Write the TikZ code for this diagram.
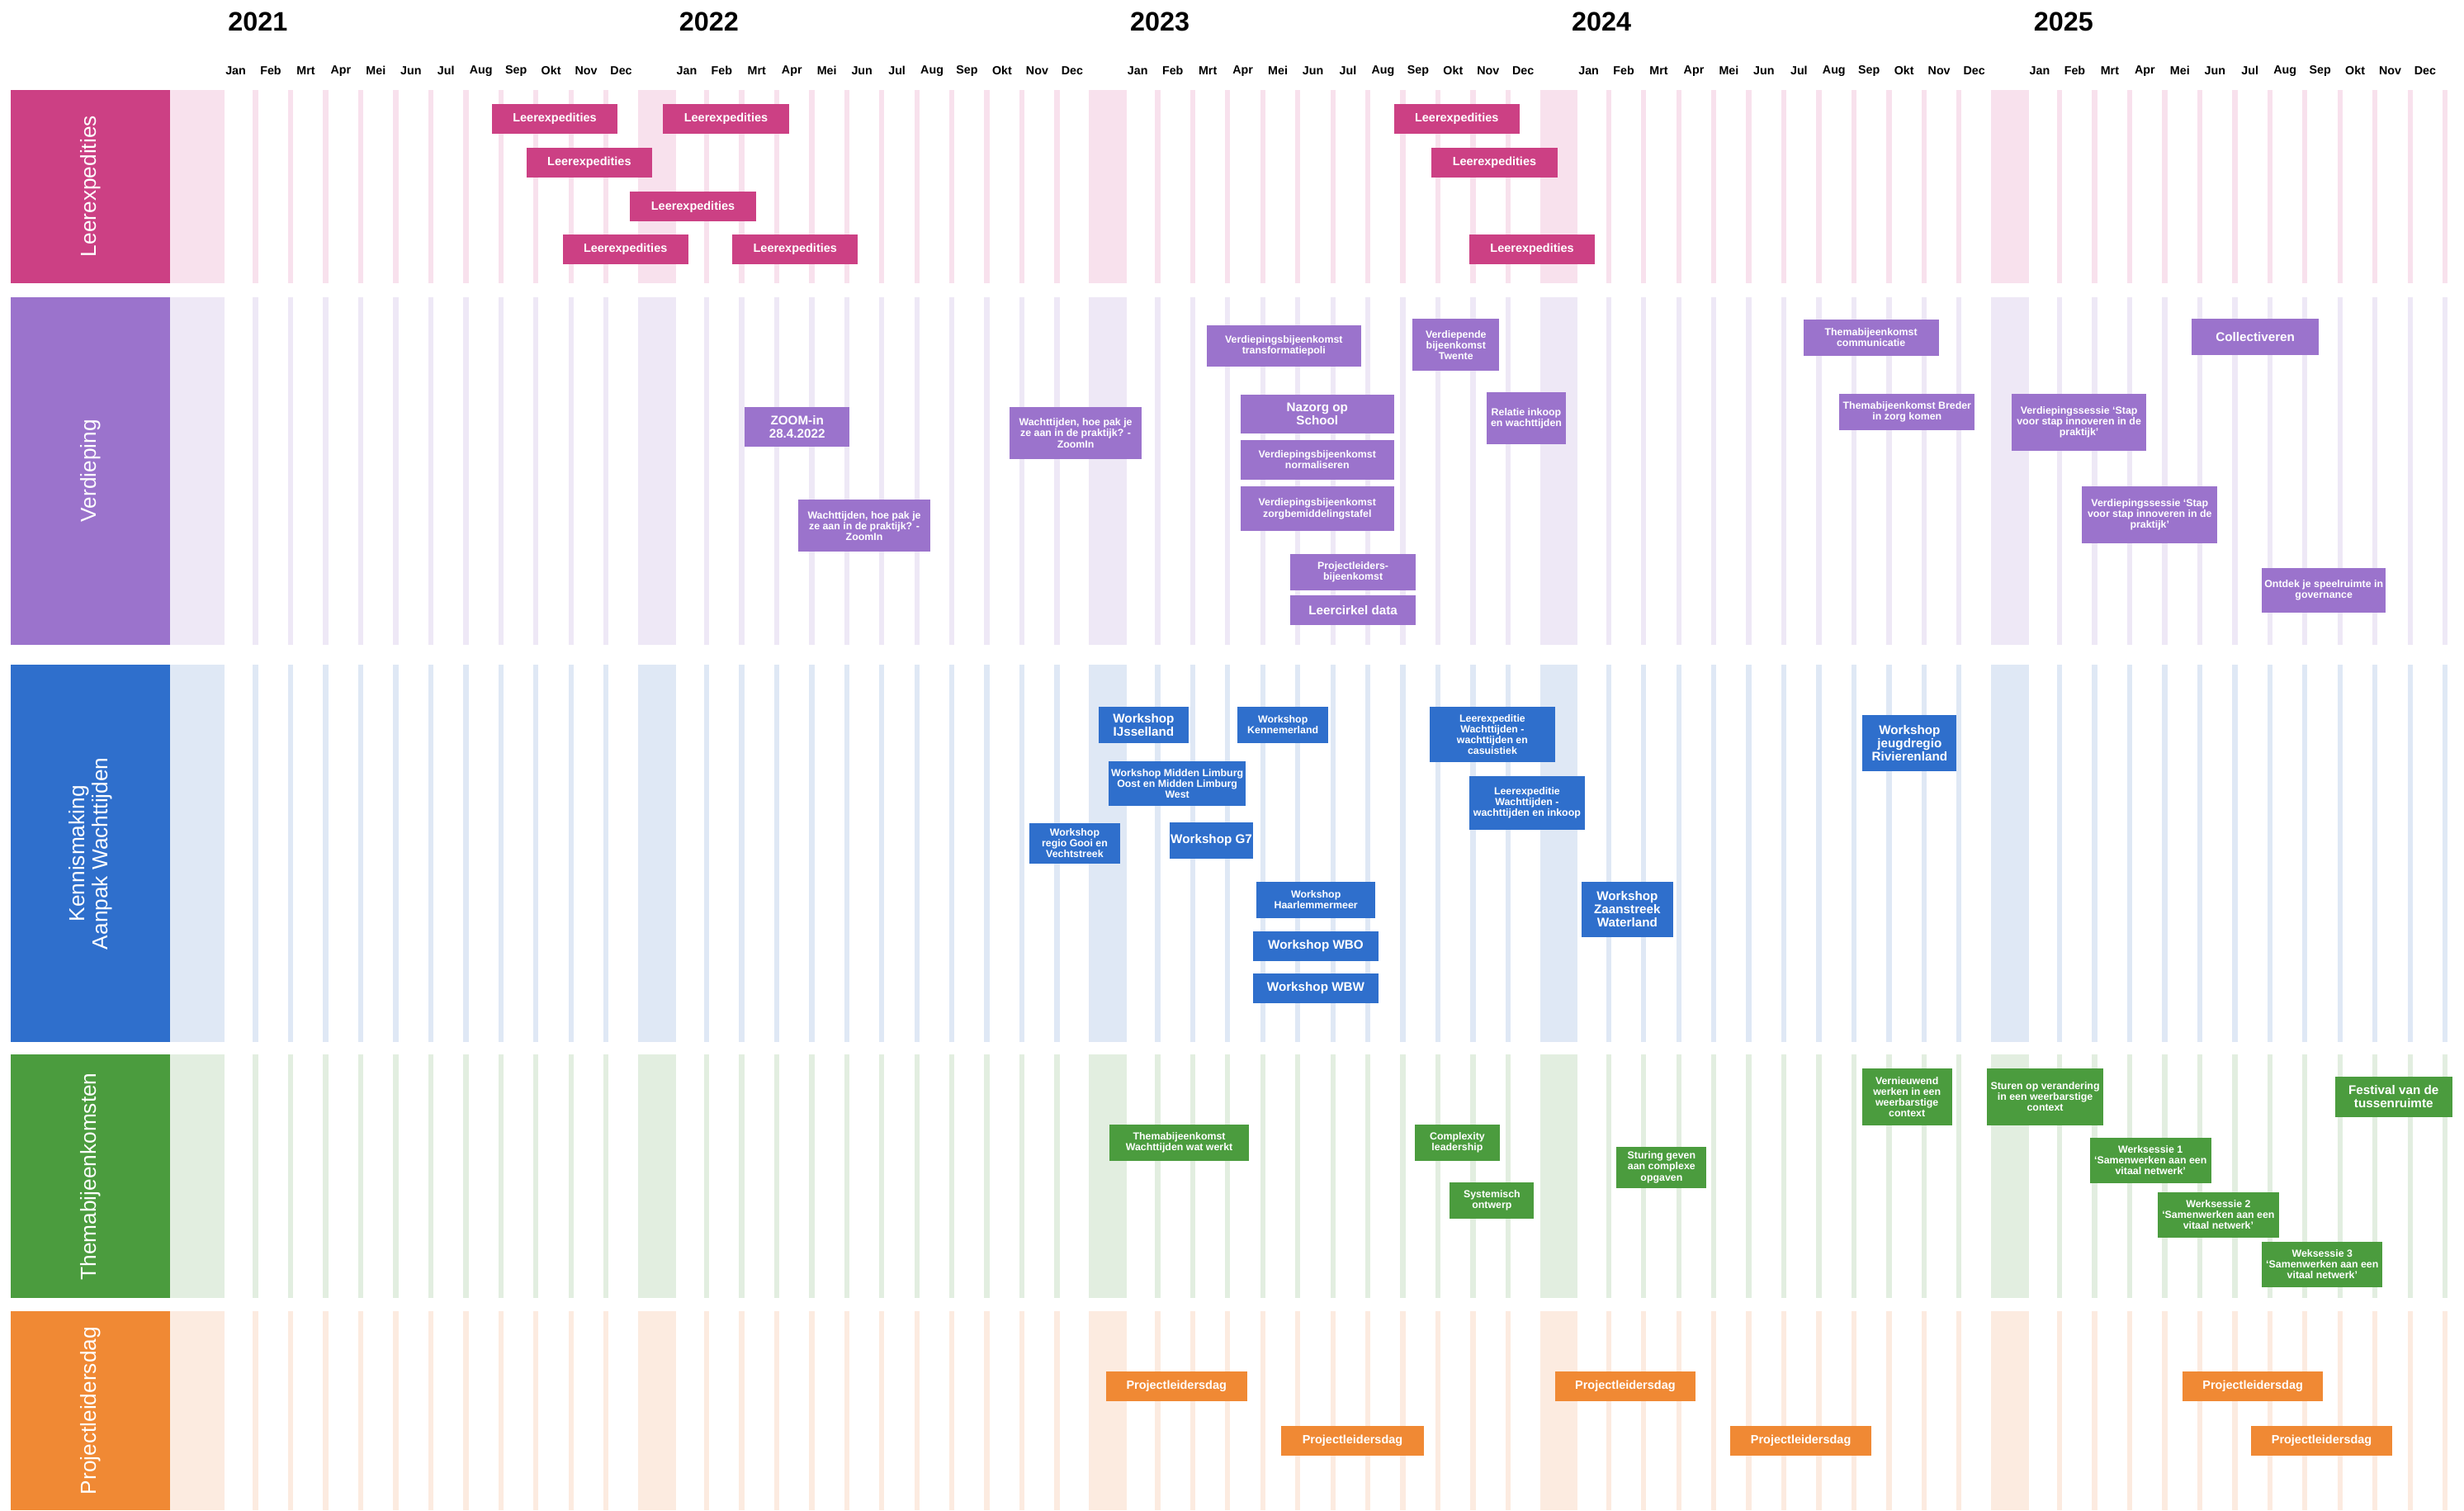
\documentclass[tikz,border=0pt]{standalone}
\usepackage{fontspec}
\setmainfont{Liberation Sans}
\definecolor{lxc}{RGB}{204,64,132}
\definecolor{lxp}{RGB}{248,225,237}
\definecolor{vdc}{RGB}{155,115,204}
\definecolor{vdp}{RGB}{238,232,246}
\definecolor{kmc}{RGB}{47,111,204}
\definecolor{kmp}{RGB}{223,232,245}
\definecolor{tbc}{RGB}{75,156,62}
\definecolor{tbp}{RGB}{226,238,224}
\definecolor{pdc}{RGB}{240,137,52}
\definecolor{pdp}{RGB}{252,235,224}
\tikzset{
  evt/.style={inner sep=0pt, outer sep=0pt, text=white, align=center, font=\bfseries\fontsize{6.5}{6.9}\selectfont},
  big/.style={font=\bfseries\fontsize{8}{8.4}\selectfont},
  mid/.style={font=\bfseries\fontsize{7.6}{8}\selectfont},
  lx/.style={evt, fill=lxc, mid},
  vd/.style={evt, fill=vdc},
  km/.style={evt, fill=kmc},
  tb/.style={evt, fill=tbc},
  pd/.style={evt, fill=pdc, mid},
  rowblk/.style={inner sep=0pt, outer sep=0pt},
  rowlab/.style={text=white, rotate=90, align=center, font=\fontsize{13.8}{14.5}\selectfont},
  month/.style={font=\bfseries\fontsize{7.5}{8}\selectfont},
  yr/.style={anchor=west, inner sep=0pt, font=\bfseries\fontsize{17}{18}\selectfont}
}
% style, x1, y1, x2, y2, name, text
\newcommand\evbox[7]{\node[#1, minimum width={(#4)-(#2)}, minimum height={(#5)-(#3)}] (#6) at ({((#2)+(#4))/2},{((#3)+(#5))/2}) {#7};}

\begin{document}
\begin{tikzpicture}[x=1pt, y=-1pt]
\useasboundingbox (0,0) rectangle (1568,961);
\fill[white] (0,0) rectangle (1568,961);

% month stripes
\foreach \ya/\yb/\pc in {57/180/lxp,189/410/vdp,423/663/kmp,671/826/tbp,834/961/pdp}{
  \fill[\pc] (108,\ya) rectangle (143,\yb);
  \foreach \y in {0,...,4}{
    \pgfmathsetmacro\xo{150+287*\y}
    \ifnum\y>0 \fill[\pc] (\xo-31,\ya) rectangle (\xo-7,\yb); \fi
    \foreach \k in {1,...,12}
      \fill[\pc] (\xo+22.3*\k-11.3,\ya) rectangle (\xo+22.3*\k-8,\yb);
  }
}

% years and months
\foreach \y/\yr/\yx in {0/2021/145,1/2022/432,2/2023/719,3/2024/1000,4/2025/1294}{
  \node[yr] (y\yr) at (\yx,14) {\yr};
  \foreach \m [count=\i from 0] in {Jan,Feb,Mrt,Apr,Mei,Jun,Jul,Aug,Sep,Okt,Nov,Dec}
    \node[month] (m\yr-\i) at ({150+287*\y+22.3*\i},45) {\m};
}

% rows
\evbox{rowblk,fill=lxc}{7}{57}{108}{180}{rLx}{}
\evbox{rowblk,fill=vdc}{7}{189}{108}{410}{rVd}{}
\evbox{rowblk,fill=kmc}{7}{423}{108}{663}{rKm}{}
\evbox{rowblk,fill=tbc}{7}{671}{108}{826}{rTb}{}
\evbox{rowblk,fill=pdc}{7}{834}{108}{961}{rPd}{}
\node[rowlab] (tLx) at (rLx) {Leerexpedities};
\node[rowlab] (tVd) at (rVd) {Verdieping};
\node[rowlab] (tKm) at (rKm) {Kennismaking\\Aanpak Wachttijden};
\node[rowlab] (tTb) at (rTb) {Themabijeenkomsten};
\node[rowlab] (tPd) at (rPd) {Projectleidersdag};

% Leerexpedities
\evbox{lx}{313}{66}{393}{85}{le1}{Leerexpedities}
\evbox{lx}{422}{66}{502}{85}{le2}{Leerexpedities}
\evbox{lx}{335}{94}{415}{113}{le3}{Leerexpedities}
\evbox{lx}{401}{122}{481}{141}{le4}{Leerexpedities}
\evbox{lx}{358}{149}{438}{168}{le5}{Leerexpedities}
\evbox{lx}{466}{149}{546}{168}{le6}{Leerexpedities}
\evbox{lx}{887}{66}{967}{85}{le7}{Leerexpedities}
\evbox{lx}{911}{94}{991}{113}{le8}{Leerexpedities}
\evbox{lx}{935}{149}{1015}{168}{le9}{Leerexpedities}

% Verdieping
\evbox{vd,big}{474}{259}{540.5}{284}{vd1}{ZOOM-in\\28.4.2022}
\evbox{vd}{508}{318}{592}{351}{vd2}{Wachttijden, hoe pak je\\ze aan in de praktijk? -\\ZoomIn}
\evbox{vd}{642.5}{259}{726.5}{292}{vd3}{Wachttijden, hoe pak je\\ze aan in de praktijk? -\\ZoomIn}
\evbox{vd}{768}{207}{866}{233}{vd4}{Verdiepingsbijeenkomst\\transformatiepoli}
\evbox{vd}{899}{203}{954}{236}{vd5}{Verdiepende\\bijeenkomst\\Twente}
\evbox{vd,big}{789.5}{251}{887}{276}{vd6}{Nazorg op\\School}
\evbox{vd}{789.5}{280}{887}{305}{vd7}{Verdiepingsbijeenkomst\\normaliseren}
\evbox{vd}{789.5}{309.5}{887}{338}{vd8}{Verdiepingsbijeenkomst\\zorgbemiddelingstafel}
\evbox{vd}{946}{249.5}{996.5}{282.5}{vd9}{Relatie inkoop\\en wachttijden}
\evbox{vd}{821}{352.5}{901}{375.5}{vd10}{Projectleiders-\\bijeenkomst}
\evbox{vd,big}{821}{378.7}{901}{397.5}{vd11}{Leercirkel data}
\evbox{vd}{1147.6}{203.3}{1233.7}{226.2}{vd12}{Themabijeenkomst\\communicatie}
\evbox{vd}{1170.5}{250.6}{1256.7}{273.5}{vd13}{Themabijeenkomst Breder\\in zorg komen}
\evbox{vd}{1280}{250.6}{1366}{286.6}{vd14}{Verdiepingssessie ‘Stap\\voor stap innoveren in de\\praktijk’}
\evbox{vd}{1325}{309.4}{1411}{345.5}{vd15}{Verdiepingssessie ‘Stap\\voor stap innoveren in de\\praktijk’}
\evbox{vd,big}{1394.6}{203}{1475.7}{226}{vd16}{Collectiveren}
\evbox{vd}{1439.4}{361.4}{1518.2}{390}{vd17}{Ontdek je speelruimte in\\governance}

% Kennismaking Aanpak Wachttijden
\evbox{km,big}{699}{449.7}{756.5}{472.6}{km1}{Workshop\\IJsselland}
\evbox{km}{787.6}{449.7}{845.2}{472.6}{km2}{Workshop\\Kennemerland}
\evbox{km}{705.6}{484.3}{792.7}{512.9}{km3}{Workshop Midden Limburg\\Oost en Midden Limburg\\West}
\evbox{km}{655}{523.7}{712.8}{549.3}{km4}{Workshop\\regio Gooi en\\Vechtstreek}
\evbox{km,big}{744.2}{523.2}{797.6}{546.2}{km5}{Workshop G7}
\evbox{km}{799.6}{561}{875.2}{584}{km6}{Workshop\\Haarlemmermeer}
\evbox{km,big}{797.6}{592.5}{877}{611.3}{km7}{Workshop WBO}
\evbox{km,big}{797.6}{619.3}{877}{638}{km8}{Workshop WBW}
\evbox{km}{910}{449.7}{989.4}{484.7}{km9}{Leerexpeditie\\Wachttijden -\\wachttijden en\\casuistiek}
\evbox{km}{934.8}{493.8}{1008.7}{527.8}{km10}{Leerexpeditie\\Wachttijden -\\wachttijden en inkoop}
\evbox{km,big}{1006.3}{561}{1064.8}{596}{km11}{Workshop\\Zaanstreek\\Waterland}
\evbox{km,big}{1185.3}{455.1}{1245.1}{490.7}{km12}{Workshop\\jeugdregio\\Rivierenland}

% Themabijeenkomsten
\evbox{tb}{705.8}{715.5}{795}{738.4}{tb1}{Themabijeenkomst\\Wachttijden wat werkt}
\evbox{tb}{900.5}{715.5}{954.2}{738.4}{tb2}{Complexity\\leadership}
\evbox{tb}{922.6}{752.2}{976.2}{775.2}{tb3}{Systemisch\\ontwerp}
\evbox{tb}{1028.7}{729.6}{1086}{755.7}{tb4}{Sturing geven\\aan complexe\\opgaven}
\evbox{tb}{1184.8}{679.7}{1242.2}{715.8}{tb5}{Vernieuwend\\werken in een\\weerbarstige\\context}
\evbox{tb}{1264.3}{679.7}{1338.6}{715.8}{tb6}{Sturen op verandering\\in een weerbarstige\\context}
\evbox{tb,big}{1486}{685}{1560.4}{710.5}{tb7}{Festival van de\\tussenruimte}
\evbox{tb}{1330}{723.9}{1407}{752.6}{tb8}{Werksessie 1\\‘Samenwerken aan een\\vitaal netwerk’}
\evbox{tb}{1373.1}{758.5}{1450.2}{787.2}{tb9}{Werksessie 2\\‘Samenwerken aan een\\vitaal netwerk’}
\evbox{tb}{1439.4}{790}{1516.2}{818.8}{tb10}{Weksessie 3\\‘Samenwerken aan een\\vitaal netwerk’}

% Projectleidersdag
\evbox{pd}{703.8}{872.5}{793.5}{891.3}{pd1}{Projectleidersdag}
\evbox{pd}{815.5}{907.2}{905.9}{926}{pd2}{Projectleidersdag}
\evbox{pd}{989.4}{872.5}{1079.1}{891.3}{pd3}{Projectleidersdag}
\evbox{pd}{1101.2}{907.2}{1190.8}{926}{pd4}{Projectleidersdag}
\evbox{pd}{1389}{872.5}{1478.2}{891.3}{pd5}{Projectleidersdag}
\evbox{pd}{1432.5}{907.2}{1522.3}{926}{pd6}{Projectleidersdag}
\end{tikzpicture}
\end{document}
